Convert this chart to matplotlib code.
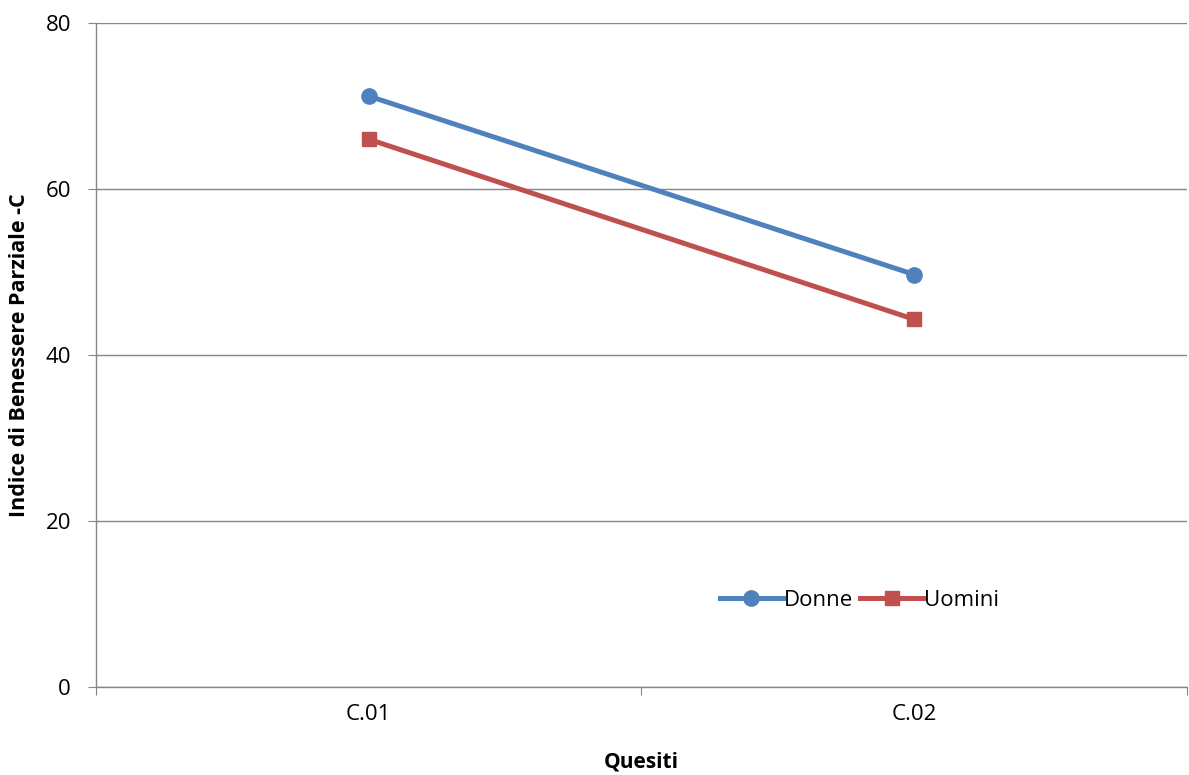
import matplotlib
matplotlib.use('Agg')
import matplotlib.pyplot as plt

# Dati: indice di benessere per quesito
quesiti = ['C.01', 'C.02']
donne = [71.2, 49.7]
uomini = [66.0, 44.3]

plt.rcParams['font.family'] = ['Open Sans', 'DejaVu Sans']

fig = plt.figure(figsize=(11.89, 7.75), dpi=100)
ax = fig.add_axes([0.0807, 0.1135, 0.9175, 0.8568])

x = range(len(quesiti))
ax.plot(x, donne, color='#4F81BD', lw=3.6, marker='o', ms=11, label='Donne')
ax.plot(x, uomini, color='#C0504D', lw=3.6, marker='s', ms=10.5, label='Uomini')

ax.set_xlim(-0.5, 1.5)
ax.set_ylim(0, 80)
ax.set_yticks([0, 20, 40, 60, 80])
ax.set_xticks([-0.5, 0.5, 1.5])
ax.set_xticklabels([])
ax.set_xticks(list(x), minor=True)
ax.set_xticklabels(quesiti, minor=True)
ax.tick_params(axis='x', which='minor', length=0, pad=12, labelsize=16)
ax.tick_params(axis='x', which='major', length=6, color='#868686')
ax.tick_params(axis='y', length=6, color='#868686', labelsize=16, pad=12)

ax.grid(axis='y', color='#868686', lw=1)
ax.set_axisbelow(True)
for s in ['top', 'right']:
    ax.spines[s].set_visible(False)
for s in ['left', 'bottom']:
    ax.spines[s].set_color('#868686')
    ax.spines[s].set_linewidth(1)

ax.set_ylabel('Indice di Benessere Parziale -C', fontsize=15.5, fontweight='bold', labelpad=11)
ax.set_xlabel('Quesiti', fontsize=15, fontweight='bold', labelpad=19)

ax.legend(loc='center', bbox_to_anchor=(0.70, 0.13), ncol=2, frameon=False,
          fontsize=16, handlelength=2.85, columnspacing=0.3, handletextpad=0.05)

fig.savefig('out.png', dpi=100)
